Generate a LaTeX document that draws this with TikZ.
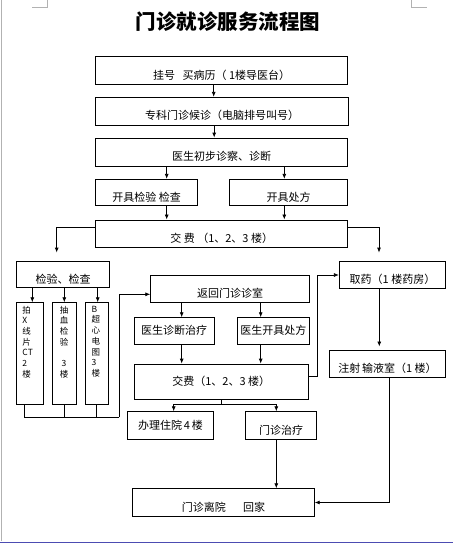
\documentclass[tikz,border=0pt]{standalone}
\usepackage{fontspec}
\setmainfont{Noto Sans CJK SC}
\usetikzlibrary{arrows.meta}
\usetikzlibrary{positioning}

\begin{document}
\begin{tikzpicture}[x=1pt,y=-1pt,
  box/.style={draw,line width=0.8pt,inner sep=0pt,font=\fontsize{11}{13}\selectfont},
  boxlow/.style={box,text height=17pt,text depth=0pt},
  tall/.style={draw,line width=0.8pt,inner sep=0pt,minimum height=101.6pt},
  tallnote/.style={anchor=north west,inner sep=0pt,align=left,font=\fontsize{8.5}{10.7}\selectfont},
  flow/.style={line width=0.8pt,-{Latex[length=5pt,width=4pt]}},
  wire/.style={line width=0.8pt},
  page/.style={gray!60,line width=0.6pt}]
\useasboundingbox (0,0) rectangle (453,544);
% page edges of the editor
\draw[page] (1,0) -- (1,541);
\draw[page] (32,7.3) -- (47.7,7.3) -- (47.7,0);
\draw[page] (426.7,7.3) -- (411.7,7.3) -- (411.7,0);
\draw[blue!40!gray,line width=0.8pt] (0,542.5) -- (453,542.5);

\node[font=\fontsize{20.5}{24}\selectfont\bfseries] (title) at (228,21.7) {门诊就诊服务流程图};

% main column
\node[boxlow,minimum width=252pt,minimum height=27.6pt] (reg) at (221.7,70.5) {挂号\ \ \ 买病历（\ 1楼导医台）};
\node[boxlow,minimum width=253pt,minimum height=28pt] (wait) at (222.2,111.3) {专科门诊候诊（电脑排号叫号）};
\node[boxlow,minimum width=252pt,minimum height=28pt] (diag) at (221.7,152) {医生初步诊察、诊断};
\node[boxlow,minimum width=102pt,minimum height=26.4pt] (exam) at (146.7,192.5) {开具检验\ 检查};
\node[boxlow,minimum width=118.4pt,minimum height=26.4pt] (presc) at (288.5,192.5) {开具处方};
\node[boxlow,minimum width=252pt,minimum height=27.7pt] (pay) at (221.7,233.8) {交\ 费\ （1、2、3\ 楼）};

% left branch
\node[boxlow,minimum width=92.6pt,minimum height=25.6pt] (check) at (63,274.5) {检验、检查};
\node[tall,minimum width=26.6pt] (xray) at (30,353.5) {};
\node[tall,minimum width=24pt] (blood) at (64.7,353.5) {};
\node[tall,minimum width=22.6pt] (bus) at (97,353.5) {};
\node[tallnote] (xraytext) at ([xshift=6pt,yshift=-3.5pt]xray.north west) {拍\\X\\线\\片\\CT\\2\\楼};
\node[tallnote] (bloodtext) at ([xshift=7.3pt,yshift=-3.5pt]blood.north west) {抽\\血\\检\\验\\~\\\ 3\\楼};
\node[tallnote] (bustext) at ([xshift=6pt,yshift=-3.5pt]bus.north west) {B\\超\\心\\电\\图\\3\\楼};

% return to clinic
\node[boxlow,minimum width=158.6pt,minimum height=27.3pt] (back) at (230,288.7) {返回门诊诊室};
\node[box,minimum width=80pt,minimum height=26.3pt] (treat) at (174,330.8) {医生诊断治疗};
\node[box,minimum width=72pt,minimum height=26.3pt] (rx) at (273.3,330.8) {医生开具处方};
\node[box,minimum width=174.3pt,minimum height=35.3pt] (paytwo) at (221.2,381.7) {交费（1、2、3\ 楼）};
\node[box,minimum width=85.6pt,minimum height=27.6pt] (admit) at (170.5,425.5) {办理住院\,4\,楼};
\node[boxlow,minimum width=70.6pt,minimum height=27.6pt] (clinic) at (281,425.5) {门诊治疗};
\node[boxlow,minimum width=181.6pt,minimum height=27.6pt] (leave) at (223.5,502.5) {门诊离院\ \ \ \ \ \ \ 回家};

% right branch
\node[boxlow,minimum width=106.4pt,minimum height=26.6pt] (drug) at (392.5,275) {取药（1\ 楼药房）};
\node[boxlow,minimum width=116.4pt,minimum height=27.7pt] (infuse) at (387.5,363.8) {注射\,输液室（1\ 楼）};

% connectors
\draw[flow] ([xshift=-8pt]reg.south) -- ([xshift=-8pt]reg.south |- wait.north);
\draw[flow] ([xshift=-8pt]wait.south) -- ([xshift=-8pt]wait.south |- diag.north);
\draw[flow] ([xshift=20pt]exam.north |- diag.south) -- ([xshift=20pt]exam.north);
\draw[flow] ([xshift=-4.2pt]presc.north |- diag.south) -- ([xshift=-4.2pt]presc.north);
\draw[flow] ([xshift=20pt]exam.south) -- ([xshift=20pt]exam.south |- pay.north);
\draw[flow] ([xshift=-4.2pt]presc.south) -- ([xshift=-4.2pt]presc.south |- pay.north);
\draw[flow,shorten >=8.7pt] ([yshift=6.5pt]pay.west) -| ([xshift=-6.3pt]check.north);
\draw[flow,shorten >=8.7pt] ([yshift=6.5pt]pay.east) -| ([xshift=-13.5pt]drug.north);
\foreach \n/\d in {xray/2.3,blood/-0.4,bus/0.7}
  \draw[flow] ([xshift=\d pt]\n.north |- check.south) -- ([xshift=\d pt]\n.north);
\coordinate (bend) at (119,417.3);
\foreach \n/\d in {xray/-5.7,blood/-0.4,bus/-1}
  \draw[wire] ([xshift=\d pt]\n.south) -- ([xshift=\d pt]\n.south |- bend);
\draw[wire] ([xshift=-5.7pt]xray.south |- bend) -- (bend);
\draw[flow] (bend) |- ([yshift=-5.6pt]back.west);
\draw[flow] ([xshift=7.7pt]treat.north |- back.south) -- ([xshift=7.7pt]treat.north);
\draw[flow] ([xshift=-12.6pt]rx.north |- back.south) -- ([xshift=-12.6pt]rx.north);
\draw[flow] ([xshift=7.7pt]treat.south) -- ([xshift=7.7pt]treat.south |- paytwo.north);
\draw[flow] ([xshift=-12.6pt]rx.south) -- ([xshift=-12.6pt]rx.south |- paytwo.north);
\draw[flow] ([yshift=5pt]paytwo.east) -- ++(8.4,0) |- (drug.west);
\draw[wire] (paytwo.south) -- ++(0,4.7) coordinate (fork);
\draw[flow] (fork) -| ([xshift=3.2pt]admit.north);
\draw[flow] (fork) -| ([xshift=-4.7pt]clinic.north);
\draw[flow] ([xshift=-4.7pt]clinic.south) -- ([xshift=-4.7pt]clinic.south |- leave.north);
\draw[flow,shorten >=3pt] ([xshift=-13.2pt]drug.south) -- ([xshift=-13.2pt]drug.south |- infuse.north);
\draw[flow] ([xshift=1.8pt]infuse.south) |- (leave.east);

\end{tikzpicture}
\end{document}
